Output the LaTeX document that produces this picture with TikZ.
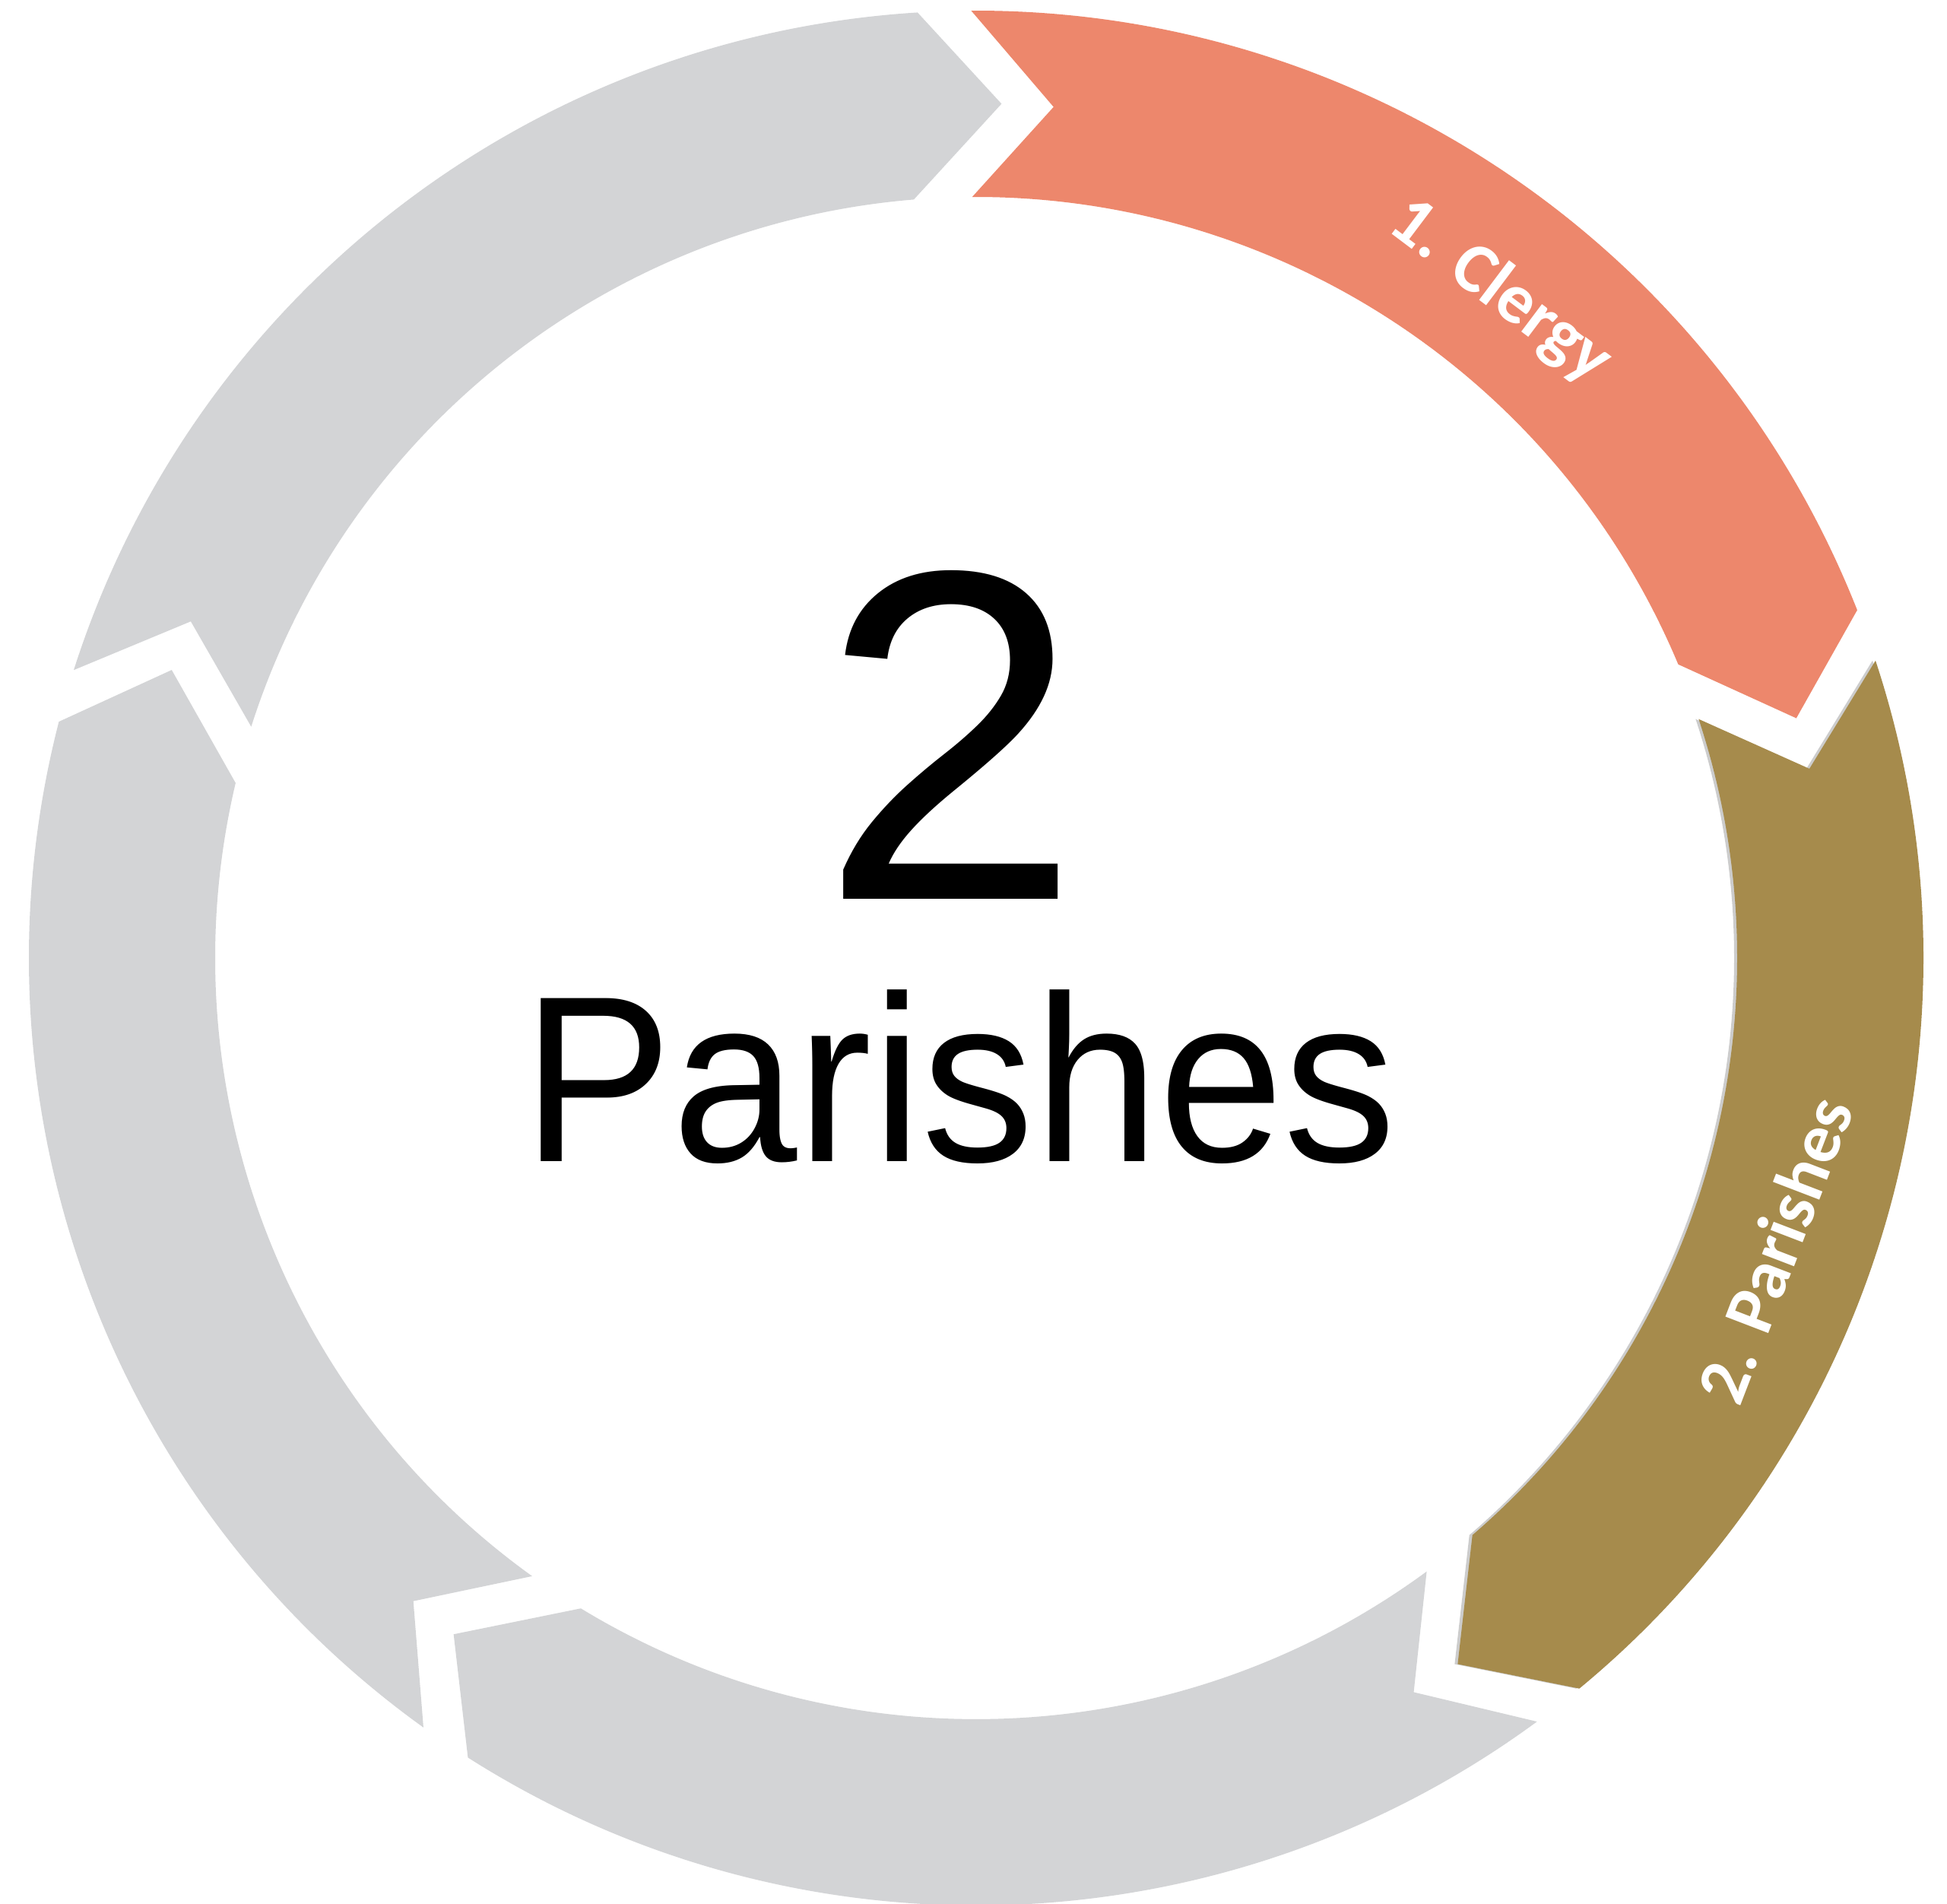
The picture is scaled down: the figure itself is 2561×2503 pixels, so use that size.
\documentclass[tikz,border=0pt]{standalone}
\usepackage{fontspec}
\setmainfont{Liberation Sans}
\newfontfamily\lblfont{Carlito}
\definecolor{segcoral}{HTML}{ED876C}
\definecolor{segolive}{HTML}{A68B4C}
\definecolor{ringgrey}{HTML}{D3D4D6}
\newcommand\ringseg[2]{%
  \fill[#2] (#1:1246) arc[start angle=#1, end angle=#1-68.75, radius=1246]
    -- (#1-74:1124) -- (#1-67.6:1001)
    arc[start angle=#1-67.6, end angle=#1, radius=1001]
    -- (#1-5.5:1124) -- cycle;}
\tikzset{
  seglabel/.style={anchor=base, inner sep=0pt, text=white, font=\lblfont\bfseries\fontsize{26.5}{26.5}\selectfont}
}
\begin{document}
\begin{tikzpicture}[x=0.01cm,y=0.01cm]
\fill[white] (0,0) rectangle (2561,2503);
\useasboundingbox (0,0) rectangle (2561,2503);
\begin{scope}[shift={(1284,1243)}]
  \begin{scope}[shift={(-4,0)}]
    \ringseg{18.3}{gray!40}
  \end{scope}
  \ringseg{90.3}{segcoral}
  \ringseg{18.3}{segolive}
  \ringseg{-53.7}{ringgrey}
  \ringseg{-125.7}{ringgrey}
  \ringseg{162.3}{ringgrey}
  \node[seglabel, rotate=-37] (clergy) at (51.8:1090) {1. Clergy};
  \node[seglabel, rotate=69] (parishlbl) at (-20.1:1150) {2. Parishes};
\end{scope}
\node[anchor=base, inner sep=0pt] (num) at (1251,1320) {\fontsize{176}{176}\selectfont 2};
\node[anchor=base, inner sep=0pt, yscale=1.055] (word) at (1262,975) {\fontsize{84}{84}\selectfont Parishes};
\end{tikzpicture}
\end{document}
